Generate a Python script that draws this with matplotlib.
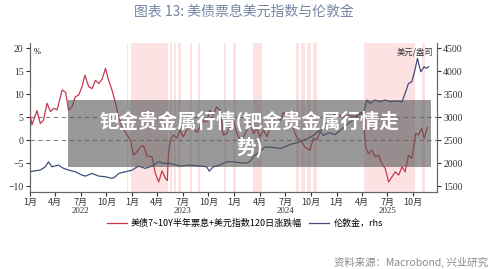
import matplotlib
matplotlib.use('Agg')
import matplotlib.pyplot as plt
import matplotlib.transforms as mtransforms
import pandas as pd

plt.rcParams['font.family'] = ['Noto Sans CJK SC', 'DejaVu Sans']

# 美债7~10Y半年票息+美元指数120日涨跌幅 (%, lhs)
red_dates = ['2022-01-03', '2022-01-08', '2022-01-26', '2022-02-07', '2022-02-18', '2022-03-03',
             '2022-03-15', '2022-03-27', '2022-04-08', '2022-04-26', '2022-05-08', '2022-05-19',
             '2022-05-31', '2022-06-12', '2022-06-24', '2022-07-06', '2022-07-16', '2022-07-30',
             '2022-08-11', '2022-08-23', '2022-09-04', '2022-09-16', '2022-09-28', '2022-10-09',
             '2022-10-21', '2022-10-31', '2022-11-14', '2022-11-26', '2022-12-14', '2022-12-26',
             '2023-01-06', '2023-01-19', '2023-01-30', '2023-02-11', '2023-02-23', '2023-03-13',
             '2023-03-25', '2023-04-06', '2023-04-18', '2023-04-30', '2023-05-07', '2023-05-11',
             '2023-05-17', '2023-05-29', '2023-06-10', '2023-06-21', '2023-07-03', '2023-07-15',
             '2023-08-02', '2023-08-20', '2023-09-01', '2023-09-12', '2023-09-24', '2023-10-06',
             '2023-10-18', '2023-10-30', '2023-11-11', '2023-11-23', '2023-12-05', '2023-12-17',
             '2023-12-29', '2024-01-11', '2024-01-22', '2024-02-03', '2024-02-15', '2024-02-27',
             '2024-03-10', '2024-03-22', '2024-04-03', '2024-04-15', '2024-04-27', '2024-05-09',
             '2024-05-20', '2024-06-02', '2024-06-14', '2024-06-26', '2024-07-08', '2024-07-20',
             '2024-08-01', '2024-08-13', '2024-08-25', '2024-09-10', '2024-09-28', '2024-10-10',
             '2024-10-22', '2024-11-03', '2024-11-15', '2024-12-03', '2024-12-27', '2025-01-20',
             '2025-02-12', '2025-03-08', '2025-04-01', '2025-04-10', '2025-04-15', '2025-04-25',
             '2025-05-07', '2025-05-19', '2025-05-31', '2025-06-12', '2025-06-24', '2025-07-06',
             '2025-07-18', '2025-07-30', '2025-08-11', '2025-08-23', '2025-09-03', '2025-09-15',
             '2025-09-27', '2025-10-08', '2025-10-11', '2025-10-20', '2025-11-01', '2025-11-10',
             '2025-11-22']
red_values = [5.0, 3.3, 6.4, 3.6, 4.3, 8.0,
              6.2, 6.9, 6.6, 10.9, 10.4, 6.5,
              7.2, 9.4, 9.8, 11.6, 14.1, 11.6,
              11.2, 13.0, 12.3, 13.3, 15.6, 13.0,
              10.9, 8.7, 5.1, 2.9, 1.1, 0.0,
              -3.3, -2.5, -1.5, -1.2, -3.5, -3.6,
              -7.2, -9.1, -6.7, -8.3, -8.8, -2.9,
              0.0, 1.1, 0.4, 2.2, 0.7, 2.2,
              3.3, 1.7, 2.8, 4.3, 4.0, 6.5,
              5.4, 7.2, 6.5, 1.1, 1.4, 2.8,
              4.3, 1.4, 0.0, 0.7, 2.2, 3.6,
              1.4, 2.5, 0.7, 2.2, 0.7, 2.8,
              4.3, 5.1, 4.3, 6.1, 5.1, 4.3,
              2.2, 0.4, 0.0, -1.5, -2.2, 0.4,
              0.0, 1.8, 2.8, 4.3, 5.8, 5.1,
              5.4, 5.1, 6.1, 2.2, -1.5, -3.0,
              -2.2, -3.6, -3.3, -5.1, -6.2, -9.1,
              -8.0, -6.9, -7.6, -5.8, -6.9, -3.3,
              -4.0, 0.0, 1.5, 1.1, 2.5, 0.4,
              2.8]

# 伦敦金 (美元/盎司, rhs)
gold_dates = ['2022-01-01', '2022-01-20', '2022-02-07', '2022-02-25', '2022-03-08', '2022-03-20',
              '2022-04-13', '2022-05-01', '2022-05-19', '2022-06-12', '2022-07-06', '2022-07-18',
              '2022-08-11', '2022-09-04', '2022-09-28', '2022-10-21', '2022-11-02', '2022-11-14',
              '2022-12-08', '2023-01-01', '2023-01-24', '2023-02-17', '2023-03-13', '2023-04-06',
              '2023-04-24', '2023-05-17', '2023-06-21', '2023-07-27', '2023-09-01', '2023-09-24',
              '2023-10-04', '2023-10-18', '2023-11-11', '2023-12-05', '2023-12-29', '2024-01-22',
              '2024-02-15', '2024-02-27', '2024-03-12', '2024-03-28', '2024-04-20', '2024-05-20',
              '2024-06-14', '2024-07-08', '2024-07-20', '2024-08-13', '2024-09-05', '2024-09-28',
              '2024-10-15', '2024-10-30', '2024-11-15', '2024-12-03', '2024-12-27', '2025-01-20',
              '2025-02-12', '2025-03-01', '2025-03-20', '2025-04-08', '2025-04-20', '2025-05-01',
              '2025-05-19', '2025-06-05', '2025-06-24', '2025-07-12', '2025-07-30', '2025-08-23',
              '2025-09-03', '2025-09-15', '2025-09-27', '2025-10-08', '2025-10-17', '2025-10-29',
              '2025-11-10', '2025-11-18', '2025-11-26']
gold_values = [1811, 1833, 1850, 1920, 2028, 1920,
               1956, 1885, 1848, 1811, 1739, 1717,
               1775, 1717, 1702, 1667, 1702, 1775,
               1811, 1848, 1935, 1885, 1935, 2028,
               1993, 1993, 1935, 1956, 1935, 1920,
               1826, 1920, 1956, 2028, 2028, 2007,
               2000, 2040, 2160, 2230, 2350, 2340,
               2320, 2370, 2410, 2440, 2500, 2560,
               2620, 2720, 2600, 2660, 2620, 2740,
               2863, 2935, 3043, 3100, 3370, 3298,
               3370, 3334, 3370, 3334, 3350, 3334,
               3515, 3732, 3768, 4022, 4276, 3985,
               4095, 4060, 4095]

# 阴影区间
shade_start = ['2022-12-12', '2022-12-29', '2023-05-18', '2023-06-01', '2023-06-15', '2023-07-27',
               '2023-08-24', '2023-11-25', '2023-12-29', '2024-03-09', '2024-08-09', '2024-08-27',
               '2024-09-17', '2024-10-08', '2025-04-09', '2025-11-04']
shade_end = ['2022-12-16', '2023-05-11', '2023-05-25', '2023-06-08', '2023-06-26', '2023-08-03',
             '2023-09-01', '2023-12-03', '2024-01-08', '2024-04-10', '2024-08-20', '2024-09-10',
             '2024-10-01', '2024-10-22', '2025-10-08', '2025-11-12']

red_label = '美债7~10Y半年票息+美元指数120日涨跌幅'
gold_label = '伦敦金，rhs'

red_x = pd.to_datetime(red_dates)
gold_x = pd.to_datetime(gold_dates)

fig = plt.figure(figsize=(5.0, 2.69), dpi=100)
ax = fig.add_axes([0.06, 0.286, 0.814, 0.554])
ax2 = ax.twinx()
ax.set_zorder(ax2.get_zorder() + 1)
ax.patch.set_visible(False)

for s, e in zip(shade_start, shade_end):
    ax2.axvspan(pd.Timestamp(s), pd.Timestamp(e), color='#fde2e4', lw=0, zorder=0)

ax.axhline(0, color='#888888', lw=0.8, ls=(0, (4, 3)), zorder=1)
ax.axhline(5, color='#888888', lw=0.8, ls=(0, (4, 3)), zorder=1)

l1, = ax.plot(red_x, red_values, color='#c8374b', lw=0.9, zorder=3)
l2, = ax.plot(gold_x, [(g - 1500) / 100 - 10 for g in gold_values], color='#3f4f7a', lw=0.9, zorder=3)

ax.set_xlim(pd.Timestamp('2022-01-01'), pd.Timestamp('2025-12-26'))
ax.set_ylim(-11.3, 21.1)
ax2.set_ylim(1370, 4610)
ax.set_yticks(range(-10, 21, 5))
ax2.set_yticks(range(1500, 4501, 500))

ticks = pd.date_range('2022-01-01', '2025-10-01', freq='QS')
ax.set_xticks(ticks)
ax.set_xticklabels([f'{t.month}月' for t in ticks], fontsize=6.5)

for a in (ax, ax2):
    for sp in a.spines.values():
        sp.set_color('#666666')
        sp.set_linewidth(0.8)
    a.spines['top'].set_visible(False)
    a.tick_params(colors='#333333', width=0.8, length=3, labelsize=7, pad=1.5)
ax.tick_params(axis='x', labelsize=6.5, pad=1)
for lab in ax.get_yticklabels() + ax2.get_yticklabels():
    lab.set_family(['Liberation Serif'])

trans = mtransforms.blended_transform_factory(ax.transData, ax.transAxes)
for yr in ['2022', '2023', '2024', '2025']:
    ax.text(pd.Timestamp(yr + '-07-01'), -0.098, yr, transform=trans, ha='center', va='top',
            fontsize=6.5, family=['Liberation Serif'], color='#333333')

ax.text(0.01, 0.97, '%', transform=ax.transAxes, fontsize=6, va='top', ha='left',
        family=['Liberation Serif'])
ax.text(0.99, 0.97, '美元/盎司', transform=ax.transAxes, fontsize=6, va='top', ha='right',
        color='#333333')

fig.text(0.487, 0.955, '图表 13: 美债票息美元指数与伦敦金', ha='center', va='center',
         fontsize=10, color='#7585a5')
fig.legend([l1, l2], [red_label, gold_label], loc='center', bbox_to_anchor=(0.49, 0.17),
           ncol=2, frameon=False, fontsize=6.5, handlelength=2.2, columnspacing=0.8,
           handletextpad=0.5)
fig.text(0.975, 0.026, '资料来源：Macrobond, 兴业研究', ha='right', va='center',
         fontsize=7.5, color='#8a8a8a')

# 覆盖的水印
fig.patches.append(plt.Rectangle((0.136, 0.379), 0.726, 0.249, transform=fig.transFigure,
                                 color='#555555', alpha=0.6, lw=0, zorder=5))
fig.text(0.5, 0.503, '钯金贵金属行情(钯金贵金属行情走\n势)', ha='center', va='center',
         fontsize=14, fontweight='bold', color='white', linespacing=1.3, zorder=6)

fig.savefig('out.png', dpi=100)
